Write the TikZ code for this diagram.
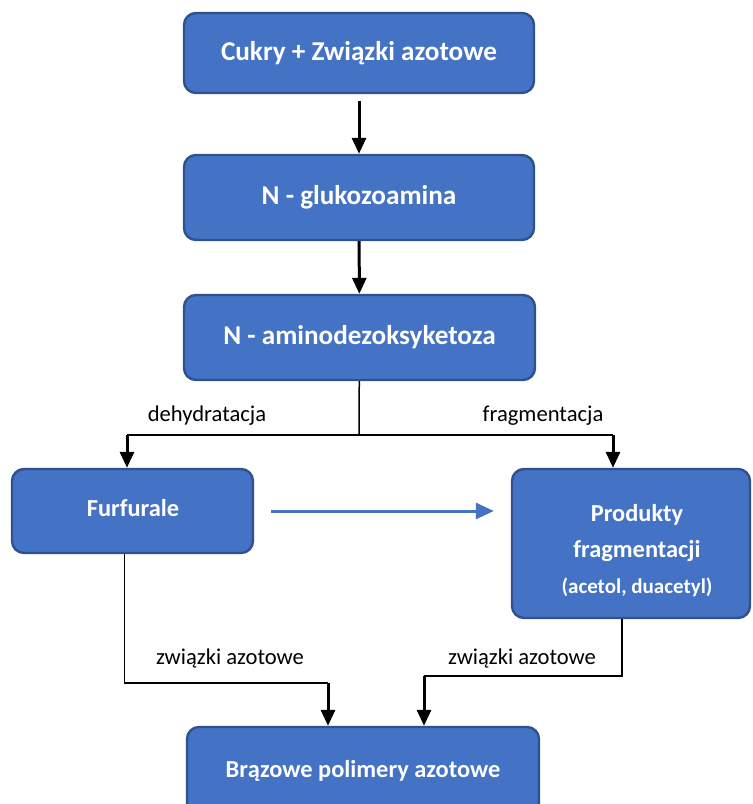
\documentclass[tikz,border=0pt]{standalone}
\usepackage{fontspec}
\setmainfont{Carlito}
\usetikzlibrary{arrows.meta}
\tikzset{>={Triangle[width=7pt,length=8pt]}}
\definecolor{boxblue}{HTML}{4472C4}
\definecolor{boxedge}{HTML}{2F528F}

\begin{document}
\begin{tikzpicture}[x=0.5pt,y=-0.5pt,
  box/.style={draw=boxedge, line width=1.2pt, fill=boxblue, rounded corners=6pt,
    text=white, align=center, inner sep=0pt,
    font=\fontsize{13.6}{16}\selectfont\bfseries},
  smallbox/.style={box, font=\fontsize{12.2}{18}\selectfont\bfseries},
  boxtext/.style={text=white, align=center, inner sep=0pt,
    font=\fontsize{12.2}{18}\selectfont\bfseries},
  lbl/.style={font=\fontsize{11.3}{13}\selectfont},
  link/.style={line width=0.75pt},
  thk/.style={line width=1.5pt,->}]

  \clip (0,0) rectangle (752,804);

  % main chain
  \node[box, minimum width=175pt, minimum height=40pt] (cukry) at (359,53) {Cukry + Związki azotowe};
  \node[box, minimum width=175pt, minimum height=42.5pt] (gluko) at (359,197.5) {N - glukozoamina};
  \node[box, minimum width=175.5pt, minimum height=42.5pt] (amino) at (359.5,337.5) {N - aminodezoksyketoza};

  % side products
  \node[smallbox, minimum width=120.5pt, minimum height=42pt] (furf) at (132.5,511) {};
  \node[boxtext] (furftext) at (133,508) {Furfurale};
  \node[smallbox, minimum width=119pt, minimum height=74.5pt] (prod) at (631,543.5) {};
  \node[boxtext] (prodtext) at (637,551)
    {Produkty\\fragmentacji\\\fontsize{10.5}{17}\selectfont(acetol, duacetyl)};

  \node[smallbox, minimum width=176pt, minimum height=44pt] (brown) at (363,771) {Brązowe polimery azotowe};

  \draw[thk, shorten <=3.5pt] (cukry) -- (gluko);
  \draw[thk] (gluko) -- (amino);

  % split
  \coordinate (split) at (359,435);
  \coordinate (lcorner) at (127,435);
  \coordinate (rcorner) at (613,435);
  \draw[link] (amino) -- (split);
  \draw[link] (lcorner) -- (rcorner);
  \draw[thk] (lcorner) -- (lcorner |- furf.north);
  \draw[thk] (rcorner) -- (rcorner |- prod.north);

  \node[lbl] (dehyd) at (207,416) {dehydratacja};
  \node[lbl] (fragm) at (543,416) {fragmentacja};

  \draw[line width=1.5pt, boxblue, -{Triangle[width=8pt,length=9pt]},
    shorten <=8.5pt, shorten >=8.5pt] (furf.east) -- (furf.east -| prod.west);

  % to polymers
  \coordinate (ldrop) at (328,683);
  \coordinate (rdrop) at (424,676);
  \draw[link] ([xshift=-4pt]furf.south) |- (ldrop);
  \draw[thk] (ldrop) -- (ldrop |- brown.north);
  \draw[link] ([xshift=-4.5pt]prod.south) |- (rdrop);
  \draw[thk] (rdrop) -- (rdrop |- brown.north);

  \node[lbl] (azotl) at (230,658) {związki azotowe};
  \node[lbl] (azotr) at (522,658) {związki azotowe};

\end{tikzpicture}
\end{document}
